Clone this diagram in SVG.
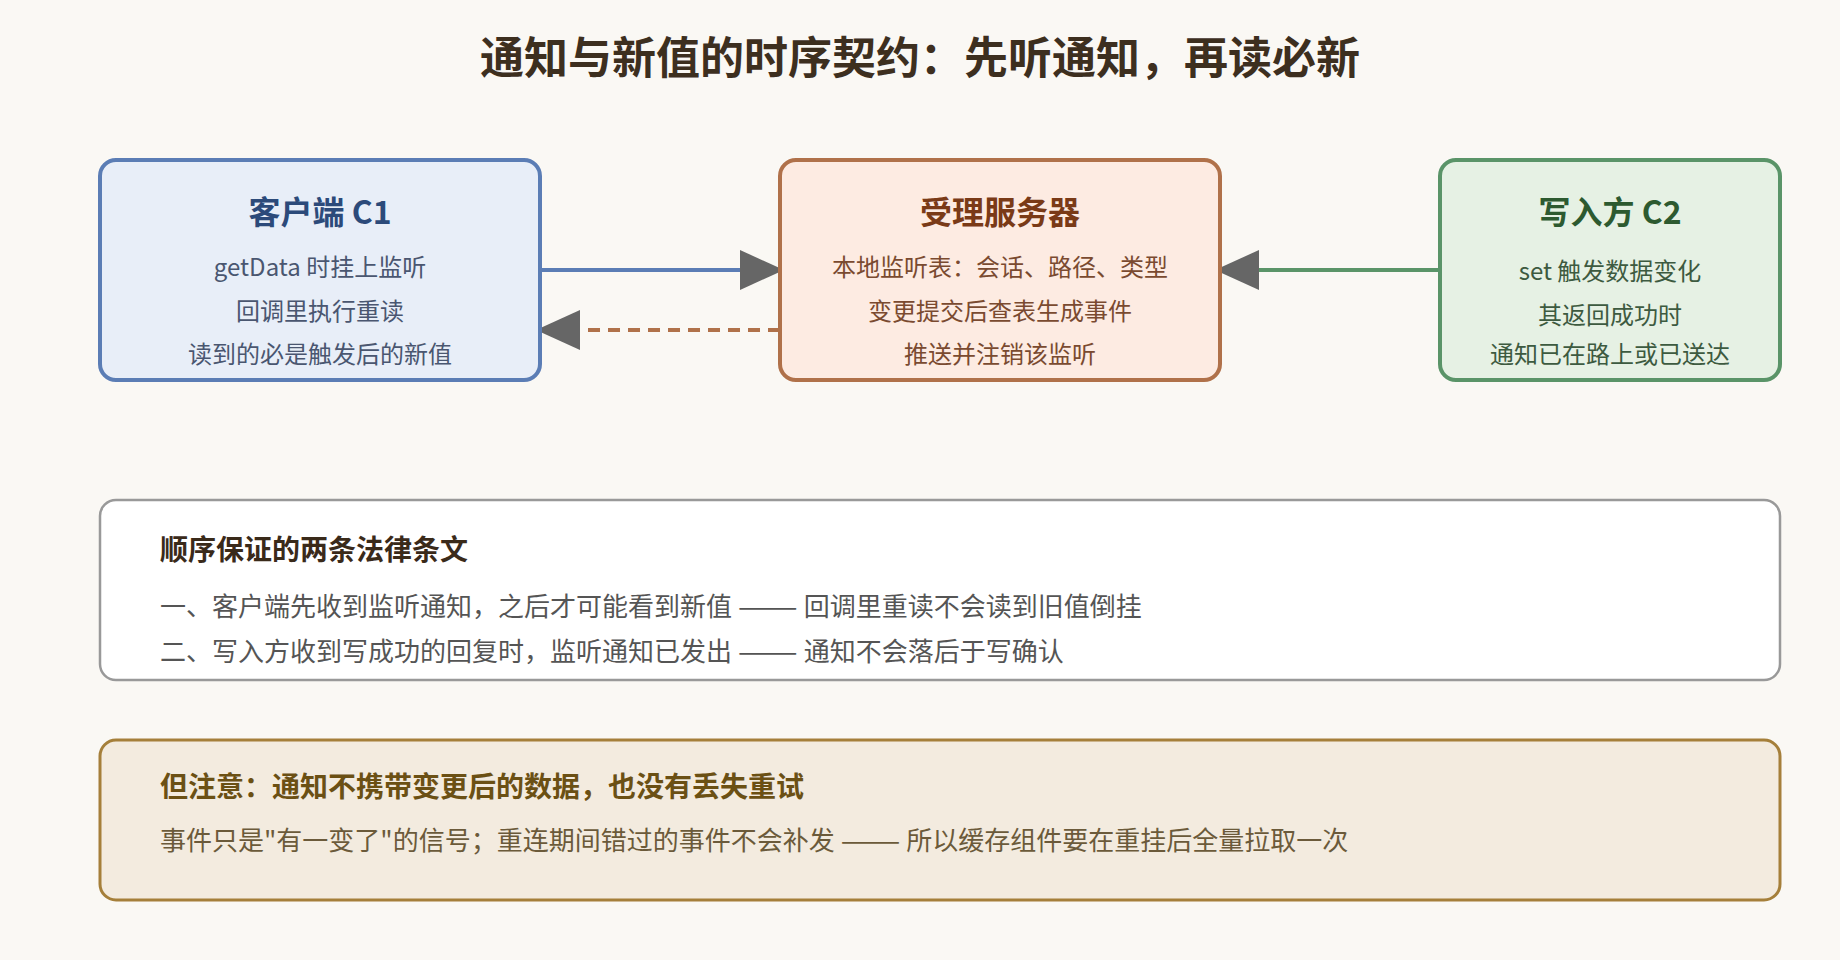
<svg xmlns="http://www.w3.org/2000/svg" width="1840" height="960" viewBox="0 0 1840 960">
  <defs>
    <marker id="arrow" viewBox="0 0 11 10" markerWidth="11" markerHeight="10" refX="11" refY="5" orient="auto" markerUnits="strokeWidth">
      <path d="M0,0 L11,5 L0,10 z" fill="#666666"/>
    </marker>
    <style>
      text { font-family: "Noto Sans CJK SC", "Noto Sans", sans-serif; }
      .title { font-size: 44px; font-weight: 700; fill: #3d2f1f; text-anchor: middle; }
      .ntitle { font-size: 32px; font-weight: 700; text-anchor: middle; }
      .nbody { font-size: 24px; text-anchor: middle; }
      .box { stroke-width: 4; }
      .h2 { font-size: 28px; font-weight: 700; }
      .b2 { font-size: 26px; }
      .conn { fill: none; stroke-width: 4; }
    </style>
  </defs>

  <rect x="0" y="0" width="1840" height="960" fill="#faf8f4"/>

  <text class="title" x="920" y="74">通知与新值的时序契约：先听通知，再读必新</text>

  <g id="connectors">
    <line class="conn" x1="540" y1="270" x2="784" y2="270" stroke="#5b7db5" marker-end="url(#arrow)"/>
    <line class="conn" x1="780" y1="330" x2="536" y2="330" stroke="#b0714a" stroke-dasharray="12 8" marker-end="url(#arrow)"/>
    <line class="conn" x1="1440" y1="270" x2="1215" y2="270" stroke="#5a9468" marker-end="url(#arrow)"/>
  </g>

  <g id="client">
    <rect class="box" x="100" y="160" width="440" height="220" rx="16" fill="#e8eef8" stroke="#5b7db5"/>
    <text class="ntitle" x="320" y="224" fill="#2c4a7a">客户端 C1</text>
    <text class="nbody" x="320" y="276" fill="#4a5670">getData 时挂上监听</text>
    <text class="nbody" x="320" y="320" fill="#4a5670">回调里执行重读</text>
    <text class="nbody" x="320" y="363" fill="#4a5670">读到的必是触发后的新值</text>
  </g>

  <g id="server">
    <rect class="box" x="780" y="160" width="440" height="220" rx="16" fill="#fdebe2" stroke="#b0714a"/>
    <text class="ntitle" x="1000" y="224" fill="#7a3a17">受理服务器</text>
    <text class="nbody" x="1000" y="276" fill="#7a4a30">本地监听表：会话、路径、类型</text>
    <text class="nbody" x="1000" y="320" fill="#7a4a30">变更提交后查表生成事件</text>
    <text class="nbody" x="1000" y="363" fill="#7a4a30">推送并注销该监听</text>
  </g>

  <g id="writer">
    <rect class="box" x="1440" y="160" width="340" height="220" rx="16" fill="#e6f1e4" stroke="#5a9468"/>
    <text class="ntitle" x="1610" y="224" fill="#2d5a30">写入方 C2</text>
    <text class="nbody" x="1610" y="280" fill="#3d5a40">set 触发数据变化</text>
    <text class="nbody" x="1610" y="324" fill="#3d5a40">其返回成功时</text>
    <text class="nbody" x="1610" y="363" fill="#3d5a40">通知已在路上或已送达</text>
  </g>

  <g id="guarantees">
    <rect x="100" y="500" width="1680" height="180" rx="16" fill="#ffffff" stroke="#999999" stroke-width="2.5"/>
    <text class="h2" x="160" y="560" fill="#3a2a1a">顺序保证的两条法律条文</text>
    <text class="b2" x="160" y="616" fill="#555555">一、客户端先收到监听通知，之后才可能看到新值 <tspan textLength="60" lengthAdjust="spacingAndGlyphs">——</tspan> 回调里重读不会读到旧值倒挂</text>
    <text class="b2" x="160" y="661" fill="#555555">二、写入方收到写成功的回复时，监听通知已发出 <tspan textLength="60" lengthAdjust="spacingAndGlyphs">——</tspan> 通知不会落后于写确认</text>
  </g>

  <g id="caveat">
    <rect x="100" y="740" width="1680" height="160" rx="16" fill="#f3ebdf" stroke="#a57f3a" stroke-width="3"/>
    <text class="h2" x="160" y="797" fill="#6b5014">但注意：通知不携带变更后的数据，也没有丢失重试</text>
    <text class="b2" x="160" y="850" fill="#6b5a3a">事件只是"有一变了"的信号；重连期间错过的事件不会补发 <tspan textLength="60" lengthAdjust="spacingAndGlyphs">——</tspan> 所以缓存组件要在重挂后全量拉取一次</text>
  </g>
</svg>
